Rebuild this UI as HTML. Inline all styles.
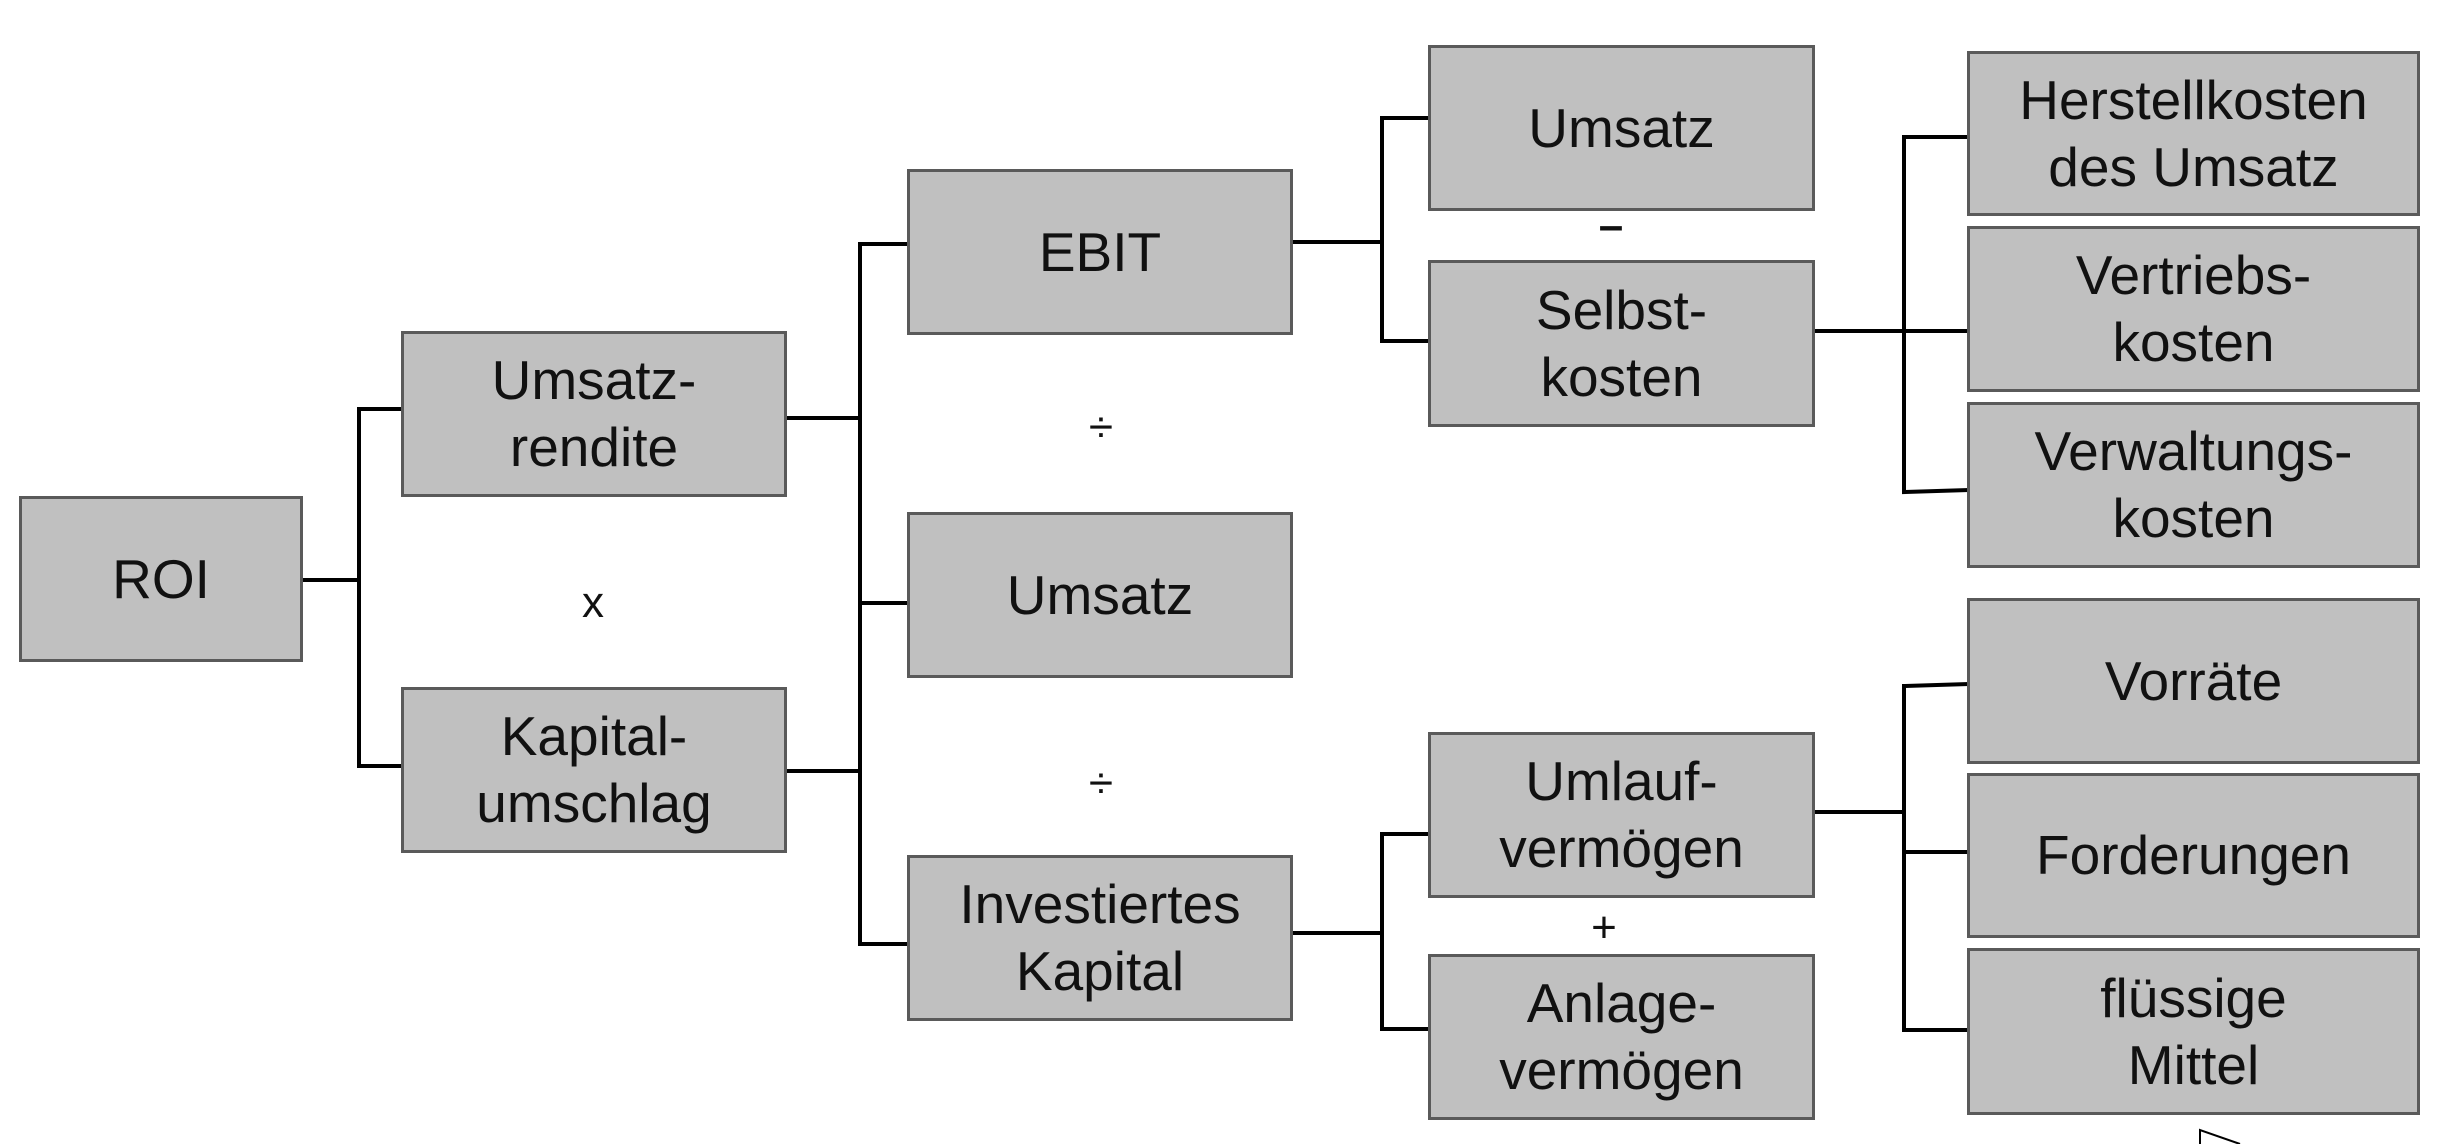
<!DOCTYPE html>
<html><head><meta charset="utf-8"><style>
html,body{margin:0;padding:0;background:#fff;}
body{width:2448px;height:1144px;position:relative;overflow:hidden;font-family:"Liberation Sans",Arial,sans-serif;}
.b{position:absolute;box-sizing:border-box;background:#c0c0c0;border:3px solid #5a5a5a;display:flex;align-items:center;justify-content:center;text-align:center;font-size:55px;line-height:67px;color:#111;white-space:nowrap;}
.s{position:absolute;font-size:44px;color:#111;transform:translate(-50%,-50%);line-height:1;}
svg{position:absolute;left:0;top:0;}
</style></head><body>
<svg width="2448" height="1144" viewBox="0 0 2448 1144">
<g stroke="#000" stroke-width="4" fill="none">
<polyline points="301,580 359,580"/>
<polyline points="403,409 359,409 359,766 403,766"/>
<polyline points="785,418 860,418"/>
<polyline points="785,771 860,771"/>
<polyline points="909,244 860,244 860,944 909,944"/>
<polyline points="860,603 909,603"/>
<polyline points="1291,242 1382,242"/>
<polyline points="1430,118 1382,118 1382,341 1430,341"/>
<polyline points="1291,933 1382,933"/>
<polyline points="1430,834 1382,834 1382,1029 1430,1029"/>
<polyline points="1813,331 1969,331"/>
<polyline points="1969,137 1904,137 1904,492 1969,490"/>
<polyline points="1813,812 1904,812"/>
<polyline points="1969,684 1904,686 1904,1030 1969,1030"/>
<polyline points="1904,852 1969,852"/>
</g>
<polyline points="2200,1144 2200,1130 2240,1144" stroke="#000" stroke-width="2" fill="none"/>
</svg>
<div class="b" style="left:19px;top:496px;width:284px;height:166px;">ROI</div>
<div class="b" style="left:401px;top:331px;width:386px;height:166px;">Umsatz-<br>rendite</div>
<div class="b" style="left:401px;top:687px;width:386px;height:166px;">Kapital-<br>umschlag</div>
<div class="b" style="left:907px;top:169px;width:386px;height:166px;">EBIT</div>
<div class="b" style="left:907px;top:512px;width:386px;height:166px;">Umsatz</div>
<div class="b" style="left:907px;top:855px;width:386px;height:166px;">Investiertes<br>Kapital</div>
<div class="b" style="left:1428px;top:45px;width:387px;height:166px;">Umsatz</div>
<div class="b" style="left:1428px;top:260px;width:387px;height:167px;">Selbst-<br>kosten</div>
<div class="b" style="left:1428px;top:732px;width:387px;height:166px;">Umlauf-<br>vermögen</div>
<div class="b" style="left:1428px;top:954px;width:387px;height:166px;">Anlage-<br>vermögen</div>
<div class="b" style="left:1967px;top:51px;width:453px;height:165px;">Herstellkosten<br>des Umsatz</div>
<div class="b" style="left:1967px;top:226px;width:453px;height:166px;">Vertriebs-<br>kosten</div>
<div class="b" style="left:1967px;top:402px;width:453px;height:166px;">Verwaltungs-<br>kosten</div>
<div class="b" style="left:1967px;top:598px;width:453px;height:166px;">Vorräte</div>
<div class="b" style="left:1967px;top:773px;width:453px;height:165px;">Forderungen</div>
<div class="b" style="left:1967px;top:948px;width:453px;height:167px;">flüssige<br>Mittel</div>
<div class="s" style="left:593px;top:603px;">x</div>
<div class="s" style="left:1101px;top:428px;">÷</div>
<div class="s" style="left:1101px;top:784px;">÷</div>
<div class="s" style="left:1611px;top:226px;font-weight:bold;">–</div>
<div class="s" style="left:1604px;top:928px;">+</div>
</body></html>
